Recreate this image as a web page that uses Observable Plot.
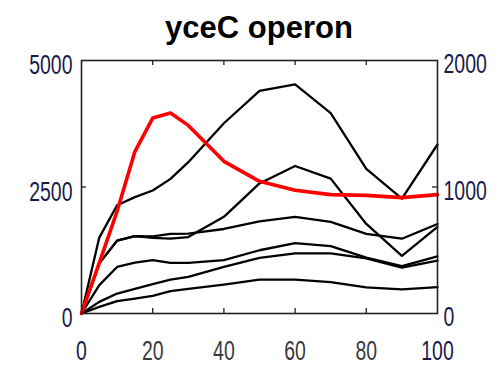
<!DOCTYPE html>
<html>
<head>
<meta charset="utf-8">
<script src="https://cdn.jsdelivr.net/npm/d3@7"></script>
<script src="https://cdn.jsdelivr.net/npm/@observablehq/plot@0.6"></script>
<style>
  html, body { margin: 0; padding: 0; background: #fff; }
  #wrap { width: 500px; height: 370px; position: relative; overflow: hidden; }
  #title {
    position: absolute; left: 0; top: 8px; width: 518px; text-align: center;
    font: bold 31px "Liberation Sans", Arial, sans-serif; color: #000; line-height: 40px;
  }
  #chart { position: absolute; left: 0; top: 50px; }
</style>
</head>
<body>
<div id="wrap">
  <div id="title">yceC operon</div>
  <div id="chart"></div>
</div>
<script>
// Sampling times (x axis)
const times = [0, 5, 10, 15, 20, 25, 30, 40, 50, 60, 70, 80, 90, 100];

// Black profiles, read against the left axis
const seriesA = [0, 1500, 2140, 2300, 2430, 2660, 2990, 3760, 4400, 4530, 3960, 2860, 2270, 3340];
const seriesB = [0, 990, 1440, 1530, 1495, 1480, 1510, 1910, 2570, 2915, 2665, 1770, 1140, 1710];
const seriesC = [0, 990, 1440, 1530, 1525, 1575, 1580, 1670, 1820, 1910, 1810, 1575, 1478, 1770];
const seriesD = [0, 560, 920, 1005, 1055, 1000, 1000, 1053, 1250, 1390, 1333, 1103, 938, 1130];
const seriesE = [0, 230, 395, 487, 579, 671, 724, 921, 1099, 1190, 1190, 1090, 905, 1045];
const seriesF = [0, 130, 243, 296, 349, 441, 487, 572, 671, 671, 622, 517, 477, 523];

// Red profile, read against the right axis
const seriesRed = [0, 400, 808, 1280, 1545, 1585, 1487, 1203, 1045, 974, 940, 934, 916, 940];

// Tick labels
const xTicks = [0, 20, 40, 60, 80, 100];
const leftTicks = [0, 2500, 5000];
const rightTicks = [0, 1000, 2000];

// Right axis spans 0–2000 over the same height as the left 0–5000
const rightFactor = 5000 / 2000;

const blackRows = [seriesA, seriesB, seriesC, seriesD, seriesE, seriesF]
  .flatMap((s, k) => s.map((v, i) => ({series: k, t: times[i], v})));
const redRows = seriesRed.map((v, i) => ({t: times[i], v: v * rightFactor}));

const W = 500, H = 320, mT = 10, mB = 57, mL = 81, mR = 63;
const innerW = W - mL - mR, innerH = H - mT - mB;
const tickLen = 5;

const navy = "#1a1a48";
const plain = d => String(d);
const tickStroke = "#222";
const innerX = xTicks.slice(1, -1);
const innerLeft = leftTicks.slice(1, -1);
const innerRight = rightTicks.slice(1, -1).map(v => v * rightFactor);

const plot = Plot.plot({
  width: W,
  height: H,
  marginTop: mT,
  marginBottom: mB,
  marginLeft: mL,
  marginRight: mR,
  style: {fontSize: "27px", fontFamily: '"Liberation Sans", Arial, sans-serif', background: "#fff"},
  x: {domain: [0, 100]},
  y: {domain: [0, 5000]},
  marks: [
    Plot.line(blackRows, {x: "t", y: "v", z: "series", stroke: "black", strokeWidth: 2.3}),
    Plot.line(redRows, {x: "t", y: "v", stroke: "#ff0000", strokeWidth: 3.6}),
    Plot.frame({stroke: tickStroke, strokeWidth: 1.6}),
    // short inward tick marks on all four sides
    Plot.ruleX(innerX, {stroke: tickStroke, strokeWidth: 1.3, insetTop: innerH - tickLen}),
    Plot.ruleX(innerX, {stroke: tickStroke, strokeWidth: 1.3, insetBottom: innerH - tickLen}),
    Plot.ruleY(innerLeft, {stroke: tickStroke, strokeWidth: 1.3, insetRight: innerW - tickLen}),
    Plot.ruleY(innerRight, {stroke: tickStroke, strokeWidth: 1.3, insetLeft: innerW - tickLen}),
    // tick labels
    Plot.axisX({ticks: [xTicks[0], xTicks[xTicks.length - 1]], tickFormat: plain, tickSize: 0, tickPadding: 27,
      fill: navy, label: null}),
    Plot.axisX({ticks: innerX, tickFormat: plain, tickSize: 0, tickPadding: 27,
      fill: "#3a3a3a", label: null}),
    Plot.axisY({ticks: leftTicks, tickFormat: plain, tickSize: 0, tickPadding: 9, dy: 5,
      fill: navy, label: null}),
    Plot.axisY({anchor: "right", ticks: rightTicks.map(v => v * rightFactor), tickFormat: d => String(d / rightFactor),
      tickSize: 0, tickPadding: 6, dy: 4, fill: navy, label: null})
  ]
});

document.getElementById("chart").appendChild(plot);

// Narrow the tick label glyphs horizontally to a condensed look
plot.querySelectorAll("text").forEach(t => {
  const w = t.getComputedTextLength();
  if (w > 0) {
    t.setAttribute("textLength", (w * 0.72).toFixed(1));
    t.setAttribute("lengthAdjust", "spacingAndGlyphs");
  }
});
</script>
</body>
</html>
